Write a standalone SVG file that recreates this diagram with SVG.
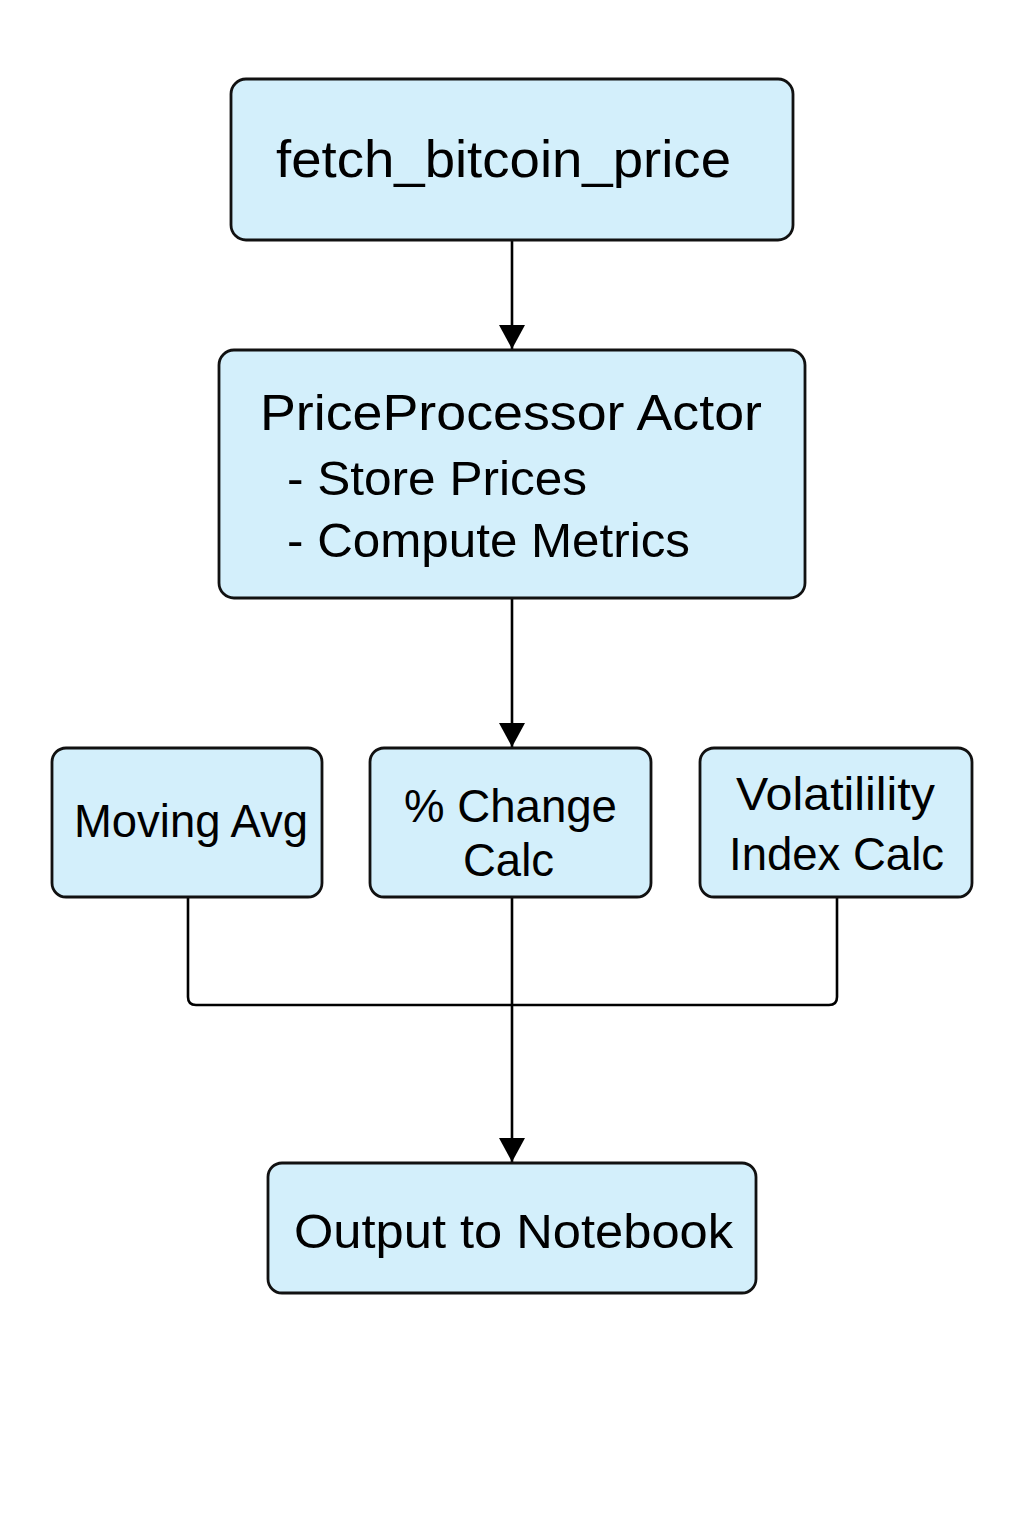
<svg xmlns="http://www.w3.org/2000/svg" width="1024" height="1536" viewBox="0 0 1024 1536">
<defs>
<style>
.box{fill:#d3effb;stroke:#111;stroke-width:2.8}
.t{font-family:"Liberation Sans",Arial,sans-serif;fill:#000}
.c{fill:none;stroke:#000;stroke-width:2.6}
</style>
<marker id="ah" viewBox="0 0 24 26" refX="24" refY="13" markerWidth="24" markerHeight="26" markerUnits="userSpaceOnUse" orient="auto">
<path d="M0,0 L24,13 L0,26 Z" fill="#000"/>
</marker>
</defs>
<rect width="1024" height="1536" fill="#fff"/>
<g id="connectors">
<path class="c" d="M512,240 V349" marker-end="url(#ah)"/>
<path class="c" d="M512,598 V747" marker-end="url(#ah)"/>
<path class="c" d="M188,897 V997 Q188,1005 196,1005 H829 Q837,1005 837,997 V897"/>
<path class="c" d="M512,897 V1162" marker-end="url(#ah)"/>
</g>
<g id="fetch">
<rect class="box" x="231" y="79" width="562" height="161" rx="15"/>
<text class="t" x="276" y="177" font-size="52" textLength="455" lengthAdjust="spacingAndGlyphs">fetch_bitcoin_price</text>
</g>
<g id="processor">
<rect class="box" x="219" y="350" width="586" height="248" rx="15"/>
<text class="t" x="260" y="430" font-size="50" textLength="502" lengthAdjust="spacingAndGlyphs">PriceProcessor Actor</text>
<text class="t" x="287" y="495" font-size="48" textLength="300" lengthAdjust="spacingAndGlyphs">- Store Prices</text>
<text class="t" x="287" y="557" font-size="48" textLength="403" lengthAdjust="spacingAndGlyphs">- Compute Metrics</text>
</g>
<g id="movingavg">
<rect class="box" x="52" y="748" width="270" height="149" rx="14"/>
<text class="t" x="74" y="837" font-size="46" textLength="234" lengthAdjust="spacingAndGlyphs">Moving Avg</text>
</g>
<g id="pctchange">
<rect class="box" x="370" y="748" width="281" height="149" rx="14"/>
<text class="t" x="404" y="822" font-size="46" textLength="213" lengthAdjust="spacingAndGlyphs">% Change</text>
<text class="t" x="463" y="876" font-size="46" textLength="91" lengthAdjust="spacingAndGlyphs">Calc</text>
</g>
<g id="volatility">
<rect class="box" x="700" y="748" width="272" height="149" rx="14"/>
<text class="t" x="736" y="810" font-size="46" textLength="199" lengthAdjust="spacingAndGlyphs">Volatilility</text>
<text class="t" x="729" y="870" font-size="46" textLength="215" lengthAdjust="spacingAndGlyphs">Index Calc</text>
</g>
<g id="output">
<rect class="box" x="268" y="1163" width="488" height="130" rx="14"/>
<text class="t" x="294" y="1248" font-size="48" textLength="439" lengthAdjust="spacingAndGlyphs">Output to Notebook</text>
</g>
</svg>
